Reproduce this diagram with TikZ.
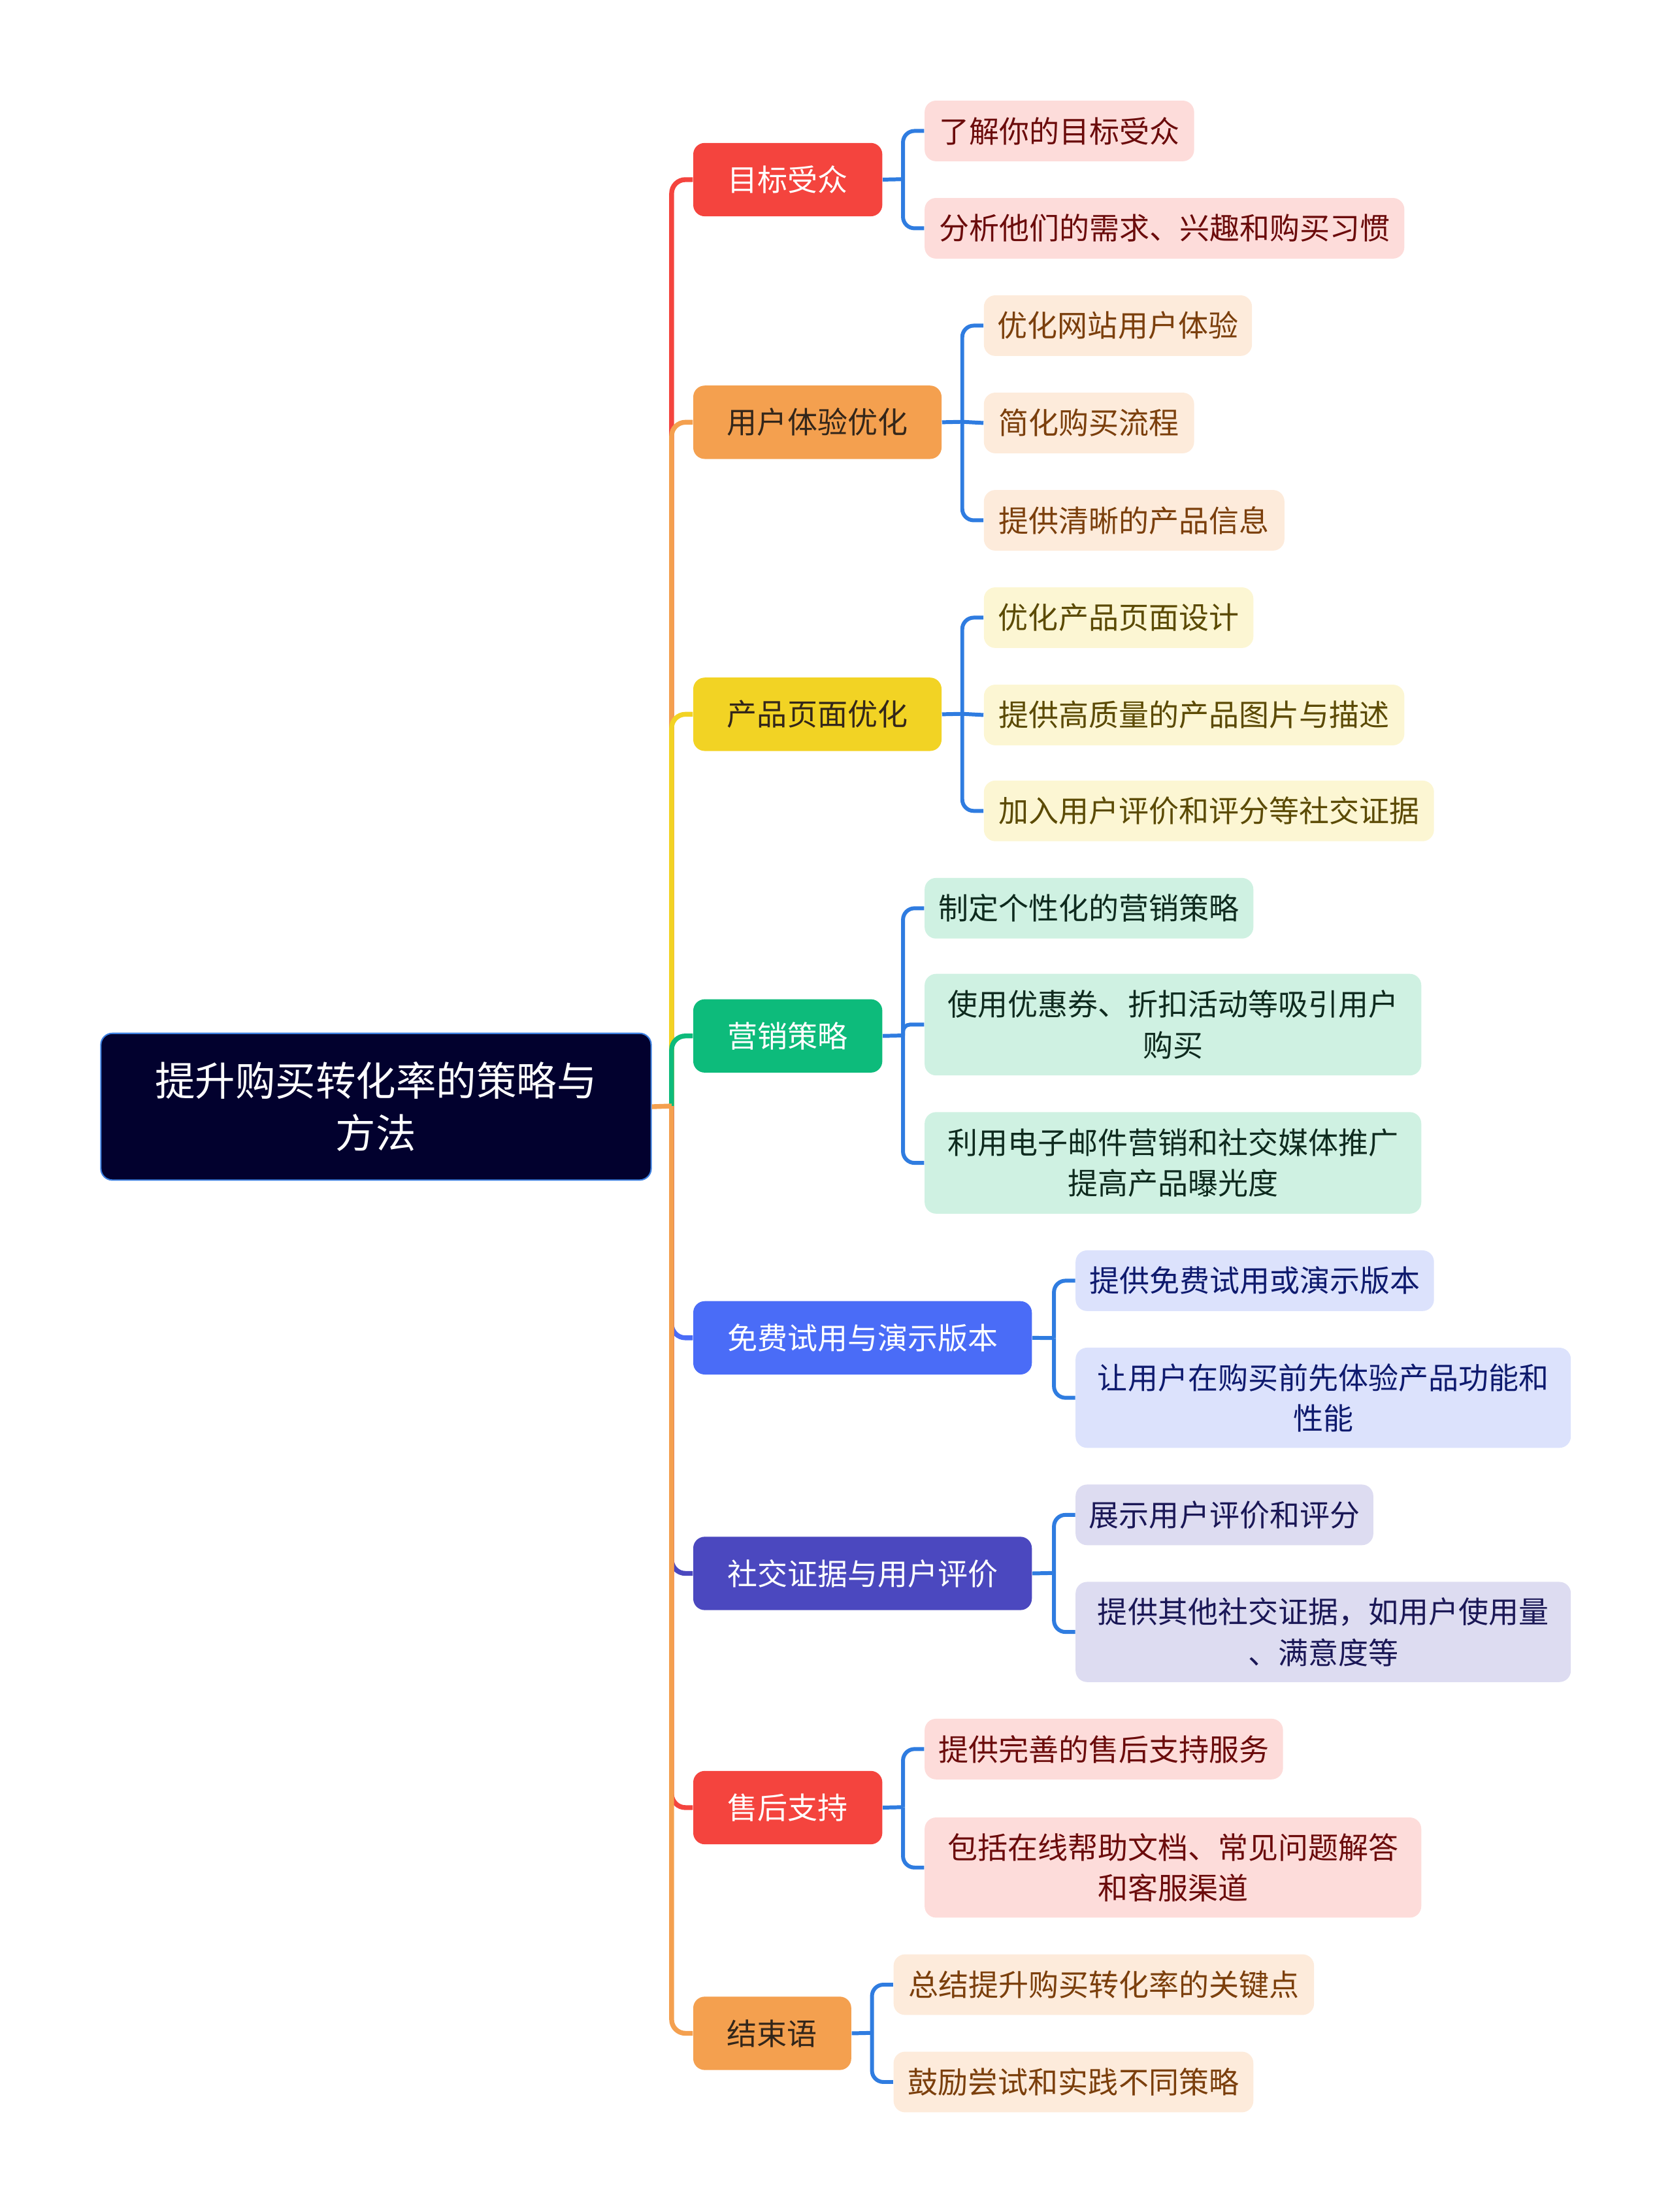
\documentclass[tikz,border=0pt]{standalone}
\usepackage{fontspec}
\setmainfont{Noto Sans CJK SC}
\def\U{0.6146pt}
\definecolor{rootfill}{HTML}{02012E}
\definecolor{rootline}{HTML}{3C7FE0}
\definecolor{cred}{HTML}{F4443E}
\definecolor{corange}{HTML}{F4A04F}
\definecolor{cyellow}{HTML}{F2D324}
\definecolor{cgreen}{HTML}{0DBB7B}
\definecolor{cblue}{HTML}{4A6CF7}
\definecolor{cpurple}{HTML}{4B48BF}
\definecolor{csub}{HTML}{2F7CE0}
\definecolor{darktext}{HTML}{33261A}
\definecolor{fred}{HTML}{FDDCDA}\definecolor{tred}{HTML}{6B0B0B}
\definecolor{forange}{HTML}{FDEBDB}\definecolor{torange}{HTML}{7B3F0C}
\definecolor{fyellow}{HTML}{FCF6D3}\definecolor{tyellow}{HTML}{5B4A04}
\definecolor{fgreen}{HTML}{CFF1E2}\definecolor{tgreen}{HTML}{0E2A1E}
\definecolor{fblue}{HTML}{DCE2FC}\definecolor{tblue}{HTML}{0E1A6E}
\definecolor{fpurple}{HTML}{DDDCF1}\definecolor{tpurple}{HTML}{1A1756}
\begin{document}
\begin{tikzpicture}[x=0.6146pt,y=-0.6146pt,
  box/.style={rounded corners=5pt, inner sep=0pt, anchor=north west, align=center,
    font=\fontsize{13.1}{17.8}\selectfont},
  branchbox/.style={box, minimum height=52*\U},
  leafbox/.style={box, minimum height=43*\U},
  leaftwo/.style={box, minimum height=72*\U},
  gred/.style={fill=fred, text=tred},
  gorange/.style={fill=forange, text=torange},
  gyellow/.style={fill=fyellow, text=tyellow},
  ggreen/.style={fill=fgreen, text=tgreen},
  gblue/.style={fill=fblue, text=tblue},
  gpurple/.style={fill=fpurple, text=tpurple},
  trunk/.style={line width=2.1pt, rounded corners=6pt},
  sub/.style={line width=1.7pt, draw=csub, rounded corners=5pt},
]
\useasboundingbox (0,0) rectangle (1185,1568);

% root
\node[box, minimum width=390*\U, minimum height=104*\U, fill=rootfill, draw=rootline,
  line width=0.6pt, text=white, font=\fontsize{17.5}{22.7}\selectfont]
  (root) at (71,732) {提升购买转化率的策略与\\方法};

% branches
\node[branchbox, minimum width=134*\U, fill=cred, text=white] (b1) at (491,101) {目标受众};
\node[branchbox, minimum width=176*\U, fill=corange, text=darktext] (b2) at (491,273) {用户体验优化};
\node[branchbox, minimum width=176*\U, fill=cyellow, text=darktext] (b3) at (491,480) {产品页面优化};
\node[branchbox, minimum width=134*\U, fill=cgreen, text=white] (b4) at (491,708) {营销策略};
\node[branchbox, minimum width=240*\U, fill=cblue, text=white] (b5) at (491,922) {免费试用与演示版本};
\node[branchbox, minimum width=240*\U, fill=cpurple, text=white] (b6) at (491,1089) {社交证据与用户评价};
\node[branchbox, minimum width=134*\U, fill=cred, text=white] (b7) at (491,1255) {售后支持};
\node[branchbox, minimum width=112*\U, fill=corange, text=darktext] (b8) at (491,1415) {结束语};

% leaves
\node[leafbox, gred, minimum width=191*\U] (l11) at (655,71) {了解你的目标受众};
\node[leafbox, gred, minimum width=340*\U] (l12) at (655,140) {分析他们的需求、兴趣和购买习惯};

\node[leafbox, gorange, minimum width=190*\U] (l21) at (697,209) {优化网站用户体验};
\node[leafbox, gorange, minimum width=149*\U] (l22) at (697,278) {简化购买流程};
\node[leafbox, gorange, minimum width=213*\U] (l23) at (697,347) {提供清晰的产品信息};

\node[leafbox, gyellow, minimum width=191*\U] (l31) at (697,416) {优化产品页面设计};
\node[leafbox, gyellow, minimum width=298*\U] (l32) at (697,485) {提供高质量的产品图片与描述};
\node[leafbox, gyellow, minimum width=319*\U] (l33) at (697,553) {加入用户评价和评分等社交证据};

\node[leafbox, ggreen, minimum width=233*\U] (l41) at (655,622) {制定个性化的营销策略};
\node[leaftwo, ggreen, minimum width=352*\U] (l42) at (655,690) {使用优惠券、折扣活动等吸引用户\\购买};
\node[leaftwo, ggreen, minimum width=352*\U] (l43) at (655,788) {利用电子邮件营销和社交媒体推广\\提高产品曝光度};

\node[leafbox, gblue, minimum width=254*\U] (l51) at (762,886) {提供免费试用或演示版本};
\node[leaftwo, gblue, minimum width=351*\U, minimum height=71*\U] (l52) at (762,955) {让用户在购买前先体验产品功能和\\性能};

\node[leafbox, gpurple, minimum width=211*\U] (l61) at (762,1052) {展示用户评价和评分};
\node[leaftwo, gpurple, minimum width=351*\U, minimum height=71*\U] (l62) at (762,1121) {提供其他社交证据，如用户使用量\\、满意度等};

\node[leafbox, gred, minimum width=254*\U] (l71) at (655,1218) {提供完善的售后支持服务};
\node[leaftwo, gred, minimum width=352*\U, minimum height=71*\U] (l72) at (655,1288) {包括在线帮助文档、常见问题解答\\和客服渠道};

\node[leafbox, gorange, minimum width=298*\U] (l81) at (633,1385) {总结提升购买转化率的关键点};
\node[leafbox, gorange, minimum width=255*\U] (l82) at (633,1454) {鼓励尝试和实践不同策略};

% trunk connectors
\coordinate (J) at (476,784);
\draw[trunk, draw=cred] (J) |- (b1.west);
\draw[trunk, draw=corange] (J) |- (b2.west);
\draw[trunk, draw=cyellow] (J) |- (b3.west);
\draw[trunk, draw=cgreen] (J) |- (b4.west);
\draw[trunk, draw=cblue] (J) |- (b5.west);
\draw[trunk, draw=cpurple] (J) |- (b6.west);
\draw[trunk, draw=cred] (J) |- (b7.west);
\draw[trunk, draw=corange] (J) |- (b8.west);
\draw[line width=2.1pt, draw=corange] (root.east) -- (J);

% sub connectors
\coordinate (S1) at (640,127);
\coordinate (S2) at (682,299);
\coordinate (S3) at (682,506);
\coordinate (S4) at (640,734);
\coordinate (S5) at (747,948.5);
\coordinate (S6) at (747,1115);
\coordinate (S7) at (640,1281);
\coordinate (S8) at (618,1441);

\draw[sub] (b1.east) -- (S1);
\draw[sub] (S1) |- (l11.west);
\draw[sub] (S1) |- (l12.west);

\draw[sub] (b2.east) -- (S2);
\draw[sub] (S2) |- (l21.west);
\draw[sub] (S2) -- (l22.west);
\draw[sub] (S2) |- (l23.west);

\draw[sub] (b3.east) -- (S3);
\draw[sub] (S3) |- (l31.west);
\draw[sub] (S3) -- (l32.west);
\draw[sub] (S3) |- (l33.west);

\draw[sub] (b4.east) -- (S4);
\draw[sub] (S4) |- (l41.west);
\draw[sub, rounded corners=3pt] (S4) |- (l42.west);
\draw[sub] (S4) |- (l43.west);

\draw[sub] (b5.east) -- (S5);
\draw[sub] (S5) |- (l51.west);
\draw[sub] (S5) |- (l52.west);

\draw[sub] (b6.east) -- (S6);
\draw[sub] (S6) |- (l61.west);
\draw[sub] (S6) |- (l62.west);

\draw[sub] (b7.east) -- (S7);
\draw[sub] (S7) |- (l71.west);
\draw[sub] (S7) |- (l72.west);

\draw[sub] (b8.east) -- (S8);
\draw[sub] (S8) |- (l81.west);
\draw[sub] (S8) |- (l82.west);
\end{tikzpicture}
\end{document}
